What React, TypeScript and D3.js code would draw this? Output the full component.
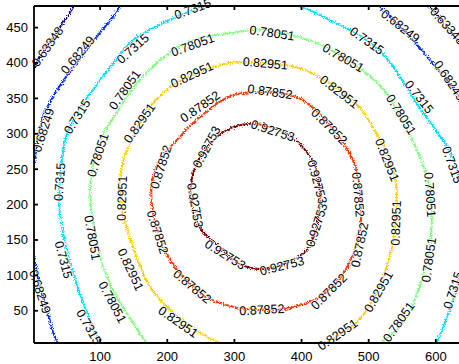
import * as d3 from 'd3';

// contour levels (as printed by clabel) and jet colours
const LEVELS = [0.63348, 0.68249, 0.7315, 0.78051, 0.82951, 0.87852, 0.92753];
const LEVEL_COLORS = ['#00008f', '#0030ff', '#00dfff', '#80ff80', '#ffcf00', '#ff3800', '#800000'];

const X_TICKS = [100, 200, 300, 400, 500, 600];
const Y_TICKS = [50, 100, 150, 200, 250, 300, 350, 400, 450];

// contour rings, [x, y] in data units
const RING_1: [number, number][] = [
  [70, 489], [51, 465], [30, 437], [10, 408], [3, 394], [-19, 348], [-49, 206], [-42, 65], [40, -90],
  [335, -203], [636, -90], [740, 206], [681, 376], [633, 432], [591, 479], [576, 489], [335, 588]
];
const RING_2: [number, number][] = [
  [323, 538], [511, 482], [541, 456], [570, 428], [600, 394], [620, 372], [634, 352], [688, 206],
  [696, 23], [576, -104], [335, -140], [130, -76], [37, 5], [25, 37], [15, 69], [3, 118], [-12, 192],
  [3, 267], [15, 324], [36, 362], [60, 394], [95, 437], [119, 465], [140, 489]
];
const RING_3: [number, number][] = [
  [335, 492], [401, 479], [441, 461], [481, 442], [520, 414], [550, 376], [575, 338], [600, 305],
  [620, 277], [634, 245], [643, 192], [642, 136], [634, 93], [615, 37], [600, 5], [547, -48], [457, -83],
  [353, -93], [249, -79], [159, -48], [100, 5], [75, 61], [55, 118], [40, 188], [40, 235], [51, 301],
  [75, 343], [115, 394], [149, 432], [189, 454], [229, 471], [268, 485]
];
const RING_4: [number, number][] = [
  [341, 447], [392, 438], [441, 420], [490, 390], [526, 358], [550, 319], [570, 281], [585, 245],
  [593, 206], [594, 171], [590, 136], [579, 93], [560, 47], [541, 23], [520, 5], [472, -34], [398, -52],
  [338, -56], [279, -51], [219, -27], [170, 5], [149, 33], [119, 79], [100, 126], [89, 178], [85, 221],
  [89, 256], [100, 291], [130, 338], [159, 376], [209, 418], [249, 435], [292, 442]
];
const RING_5: [number, number][] = [
  [341, 400], [392, 394], [441, 372], [486, 338], [511, 301], [530, 267], [541, 228], [541, 188],
  [535, 140], [520, 93], [500, 55], [481, 33], [451, 13], [413, -3], [353, -10], [293, -1], [249, 19],
  [209, 47], [174, 84], [149, 140], [134, 188], [130, 235], [137, 270], [149, 295], [174, 338],
  [214, 372], [249, 387], [292, 400]
];
const RING_6: [number, number][] = [
  [341, 359], [392, 352], [426, 329], [457, 294], [478, 259], [487, 221], [489, 185], [481, 140],
  [457, 96], [424, 68], [383, 54], [341, 51], [293, 57], [259, 69], [219, 103], [194, 140], [179, 188],
  [177, 228], [189, 263], [214, 291], [249, 324], [293, 353]
];
const RING_7: [number, number][] = [
  [323, 314], [372, 303], [408, 274], [424, 242], [427, 206], [423, 171], [408, 136], [375, 116],
  [341, 109], [308, 116], [279, 139], [249, 167], [235, 206], [238, 242], [256, 277], [286, 304]
];
const RINGS = [RING_1, RING_2, RING_3, RING_4, RING_5, RING_6, RING_7];

// clabel positions: [x, y, rotation in degrees]
const LABELS_1 = [[22, 423, -55], [617, 452, 48]];
const LABELS_2 = [[67, 411, -50], [16, 305, -72], [10, 77, 72], [547, 452, 38], [620, 375, 56]];
const LABELS_3 = [
  [238, 476, -20], [149, 420, -42], [66, 324, -58], [40, 232, -86], [45, 122, 75], [83, 27, 60],
  [497, 431, 35], [575, 352, 52], [624, 256, 70], [626, 79, -72]
];
const LABELS_4 = [
  [238, 425, -20], [356, 442, 8], [462, 407, 30], [548, 327, 58], [591, 214, 86], [590, 122, -82],
  [545, 34, -55], [137, 362, -55], [97, 270, -72], [88, 153, 80], [118, 62, 62]
];
const LABELS_5 = [
  [237, 383, -25], [159, 315, -55], [133, 209, -88], [145, 108, 65], [216, 34, 35], [346, 399, 5],
  [456, 359, 38], [527, 263, 68], [541, 174, -88], [515, 77, -60], [454, 16, -35]
];
const LABELS_6 = [
  [249, 338, -35], [191, 253, -72], [185, 161, 72], [237, 84, 40], [341, 51, -3], [441, 77, -45],
  [487, 143, -78], [484, 214, 85], [441, 310, 45], [353, 359, 8]
];
const LABELS_7 = [
  [259, 281, -62], [241, 199, 80], [286, 129, 32], [371, 113, -14], [423, 171, -72], [423, 232, 75],
  [357, 304, 18]
];
const LABELS = [LABELS_1, LABELS_2, LABELS_3, LABELS_4, LABELS_5, LABELS_6, LABELS_7];

const FONT = "'Liberation Sans', Arial, Helvetica, sans-serif";

export default function App() {
  const width = 459;
  const height = 364;
  const left = 34, right = 463, top = 6, bottom = 343;

  const x = d3.scaleLinear().domain([1.5, 640.5]).range([left, right]);
  const y = d3.scaleLinear().domain([4.5, 480.5]).range([bottom, top]);

  const line = d3.line<[number, number]>()
    .x(d => x(d[0]))
    .y(d => y(d[1]))
    .curve(d3.curveCatmullRomClosed.alpha(0.5));

  const tick = 4;

  return (
    <svg
      width={width}
      height={height}
      style={{ position: 'absolute', left: 0, top: 0, background: '#fff', display: 'block' }}
      fontFamily={FONT}
    >
      <defs>
        <clipPath id="plot-area">
          <rect x={left} y={top} width={right - left} height={bottom - top} />
        </clipPath>
        {/* speckled look of the noisy contour lines */}
        <filter id="rough" filterUnits="userSpaceOnUse" x={0} y={0} width={width} height={height}>
          <feTurbulence type="fractalNoise" baseFrequency={0.85} numOctaves={2} seed={4} result="noise" />
          <feDisplacementMap in="SourceGraphic" in2="noise" scale={5} xChannelSelector="R" yChannelSelector="G" />
        </filter>
      </defs>

      <rect x={0} y={0} width={width} height={height} fill="#fff" />

      {/* contour lines */}
      <g clipPath="url(#plot-area)">
        <g filter="url(#rough)">
          {RINGS.map((ring, i) => (
            <path key={i} d={line(ring) || ''} fill="none" stroke={LEVEL_COLORS[i]} strokeWidth={1.9} />
          ))}
        </g>
      </g>

      {/* contour labels */}
      <g fontSize={12.5} fill="#000">
        {LABELS.map((list, i) => list.map((l, j) => (
          <text
            key={`${i}-${j}`}
            transform={`translate(${x(l[0])},${y(l[1])}) rotate(${l[2]})`}
            textAnchor="middle"
            dominantBaseline="central"
            stroke="#fff"
            strokeWidth={1.5}
            paintOrder="stroke"
          >
            {String(LEVELS[i])}
          </text>
        )))}
      </g>

      {/* axes box */}
      <g stroke="#000" strokeWidth={1.8} fill="none">
        <line x1={left} x2={right} y1={bottom} y2={bottom} />
        <line x1={left} x2={right} y1={top} y2={top} />
        <line x1={left} x2={left} y1={top} y2={bottom} />
        <line x1={right} x2={right} y1={top} y2={bottom} />
        {X_TICKS.map(t => (
          <g key={t}>
            <line x1={x(t)} x2={x(t)} y1={bottom} y2={bottom - tick} />
            <line x1={x(t)} x2={x(t)} y1={top} y2={top + tick} />
          </g>
        ))}
        {Y_TICKS.map(t => (
          <g key={t}>
            <line x1={left} x2={left + tick} y1={y(t)} y2={y(t)} />
            <line x1={right} x2={right - tick} y1={y(t)} y2={y(t)} />
          </g>
        ))}
      </g>

      <g fontSize={13} fill="#000">
        {X_TICKS.map(t => (
          <text key={t} x={x(t)} y={bottom + 18} textAnchor="middle">{t}</text>
        ))}
        {Y_TICKS.map(t => (
          <text key={t} x={left - 6} y={y(t)} textAnchor="end" dominantBaseline="central">{t}</text>
        ))}
      </g>
    </svg>
  );
}
